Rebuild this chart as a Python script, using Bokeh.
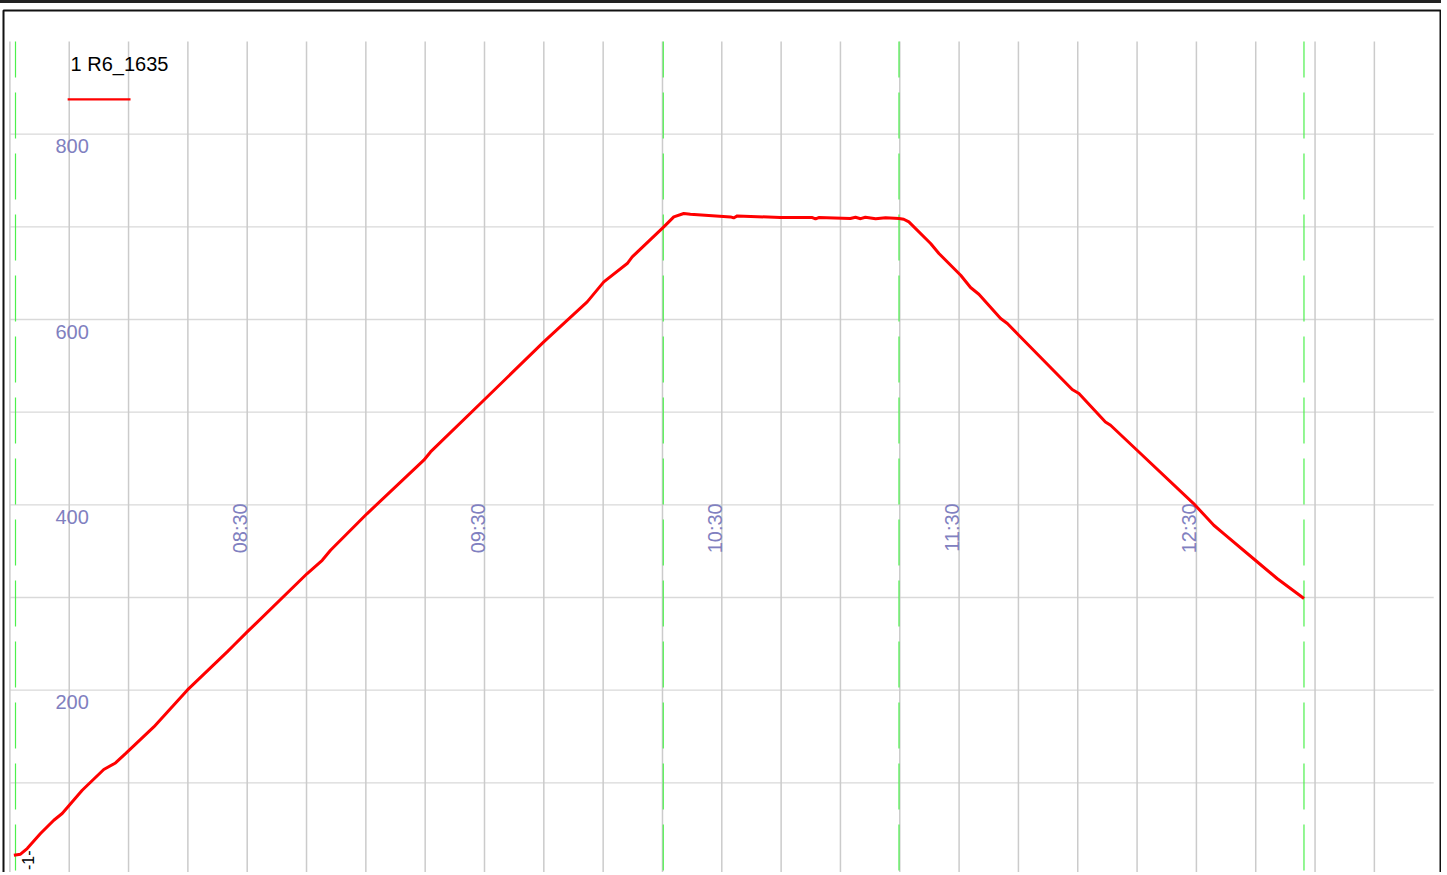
import math
import pandas as pd
from bokeh.plotting import figure
from bokeh.models import Range1d
from bokeh.core.properties import value
from bokeh.embed import file_html
from bokeh.resources import INLINE

# ---------------- data ----------------
DAY = "2024-01-01 "

times = ["07:31:00", "07:32:41", "07:34:22", "07:37:44", "07:41:06", "07:43:13",
         "07:48:17", "07:53:44", "07:56:42", "07:59:14", "08:06:23", "08:14:50",
         "08:24:56", "08:26:37", "08:30:00", "08:45:10", "08:48:58", "08:51:04",
         "09:00:20", "09:14:39", "09:16:21", "09:29:49", "09:44:59", "09:55:58",
         "10:00:10", "10:06:05", "10:07:21", "10:15:20", "10:17:52", "10:20:23",
         "10:22:04", "10:32:12", "10:33:00", "10:33:54", "10:44:48", "10:52:54",
         "10:53:42", "10:54:30", "11:02:30", "11:03:48", "11:05:06", "11:06:18",
         "11:08:54", "11:11:24", "11:14:48", "11:16:00", "11:17:18", "11:22:48",
         "11:24:54", "11:30:24", "11:32:54", "11:35:00", "11:40:30", "11:42:12",
         "11:45:06", "11:58:36", "12:00:18", "12:07:00", "12:08:18", "12:15:00",
         "12:29:18", "12:34:24", "12:36:54", "12:44:54", "12:50:24", "12:55:30",
         "12:57:12"]
temps = [21.9, 23.0, 29.1, 45.3, 59.7, 66.9,
         92.0, 114.4, 121.5, 131.6, 160.4, 200.0,
         241.3, 248.5, 262.9, 325.9, 340.2, 351.0,
         390.6, 448.2, 457.1, 512.9, 575.8, 619.0,
         640.6, 660.4, 667.5, 699.9, 710.7, 714.4,
         713.6, 710.7, 709.6, 711.8, 710.0, 710.0,
         708.5, 710.0, 709.0, 710.4, 708.8, 710.4,
         708.8, 709.8, 709.0, 708.2, 705.3, 682.0,
         671.2, 647.8, 634.5, 627.3, 601.1, 595.7,
         583.0, 524.4, 520.1, 489.5, 485.9, 458.9,
         401.4, 378.0, 369.0, 340.2, 320.5, 304.3,
         298.9]

series_name = "1 R6_1635"
trace_tag = "-1-"

grid_start, grid_end = "07:30", "13:30"
grid_times = ["07:30", "07:45", "08:00", "08:15", "08:30", "08:45", "09:00", "09:15",
              "09:30", "09:45", "10:00", "10:15", "10:30", "10:45", "11:00", "11:15",
              "11:30", "11:45", "12:00", "12:15", "12:30", "12:45", "13:00", "13:15"]
x_label_times = ["08:30", "09:30", "10:30", "11:30", "12:30"]
grid_top = 900
y_grid = [100, 200, 300, 400, 500, 600, 700, 800]
y_labels = [200, 400, 600, 800]
segment_marks = ["07:31:25", "10:15:12", "11:14:48", "12:57:12"]

MIN_MS = 60000.0


def ms(s):
    return pd.Timestamp(DAY + s).value / 1e6


# ---------------- layout ----------------
W, H = 1441, 872            # plus 3px css top border = 875
frame_left, frame_top, frame_right = 3, 7, 1
grid_left_px = 9.4 - frame_left          # 07:30 within frame (px)
px_per_min = 3.955
px_per_unit = 0.9267
frame_w = W - frame_left - frame_right
frame_h = H - frame_top

x0 = ms(grid_start) - grid_left_px / px_per_min * MIN_MS
x1 = x0 + frame_w / px_per_min * MIN_MS
y_top_val = grid_top + (41 - 10) / px_per_unit
y_bot_val = y_top_val - frame_h / px_per_unit

FONT = "Liberation Sans"
LAB = "#8080c0"

p = figure(width=W, height=H, output_backend="svg", toolbar_location=None,
           x_axis_location=None, y_axis_location=None,
           x_range=Range1d(x0, x1), y_range=Range1d(y_bot_val, y_top_val),
           min_border_left=frame_left, min_border_right=frame_right,
           min_border_top=frame_top, min_border_bottom=0)
p.outline_line_color = "#111111"
p.outline_line_width = 2
p.background_fill_color = "white"
p.border_fill_color = "white"
p.styles = {"border-top": "3px solid #222"}
p.xgrid.visible = False
p.ygrid.visible = False

# horizontal grid lines (from tick values)
p.segment(x0=[ms(grid_start)] * len(y_grid), x1=[ms(grid_end)] * len(y_grid),
          y0=y_grid, y1=y_grid, line_color="#d9d9d9", line_width=1.3)
# vertical grid lines (from tick times)
gx = [ms(t) for t in grid_times]
p.segment(x0=gx, x1=gx, y0=[y_bot_val] * len(gx), y1=[grid_top] * len(gx),
          line_color="#cbcbcb", line_width=1.5)
# green dashed segment markers
mx = [ms(t) for t in segment_marks]
p.segment(x0=mx, x1=mx, y0=[grid_top] * len(mx), y1=[y_bot_val] * len(mx),
          line_color="#4cf04c", line_width=1.2, line_dash="46 15",
          line_dash_offset=10)

# y labels inside the plot (just below their grid line)
p.text(x=[ms("07:41:30")] * len(y_labels), y=y_labels, text=[str(v) for v in y_labels],
       y_offset=12, text_font=value(FONT), text_font_size="20px", text_color=LAB,
       text_align="left", text_baseline="middle")

# x labels, vertical, just left of their grid line
p.text(x=[ms(t) for t in x_label_times], y=[401.7] * len(x_label_times),
       text=x_label_times, angle=math.pi / 2, x_offset=-7,
       text_font=value(FONT), text_font_size="20px", text_color=LAB,
       text_align="right", text_baseline="middle")

# data line
p.line([ms(t) for t in times], temps, line_color="#ff0000", line_width=3)

# trace tag near the start
p.text(x=[ms(times[0])], y=[temps[0]], text=[trace_tag], angle=math.pi / 2,
       x_offset=14, y_offset=5, text_font=value(FONT), text_font_size="16px",
       text_color="black", text_align="center", text_baseline="middle")

# legend
p.text(x=[ms("07:45:20")], y=[875.2], text=[series_name], text_font=value(FONT),
       text_font_size="20px", text_color="black",
       text_baseline="middle", text_align="left")
p.line([ms("07:44:36"), ms("08:00:30")], [837.6, 837.6], line_color="#ff0000",
       line_width=2.4)

open("out.html", "w").write(file_html(p, INLINE))
